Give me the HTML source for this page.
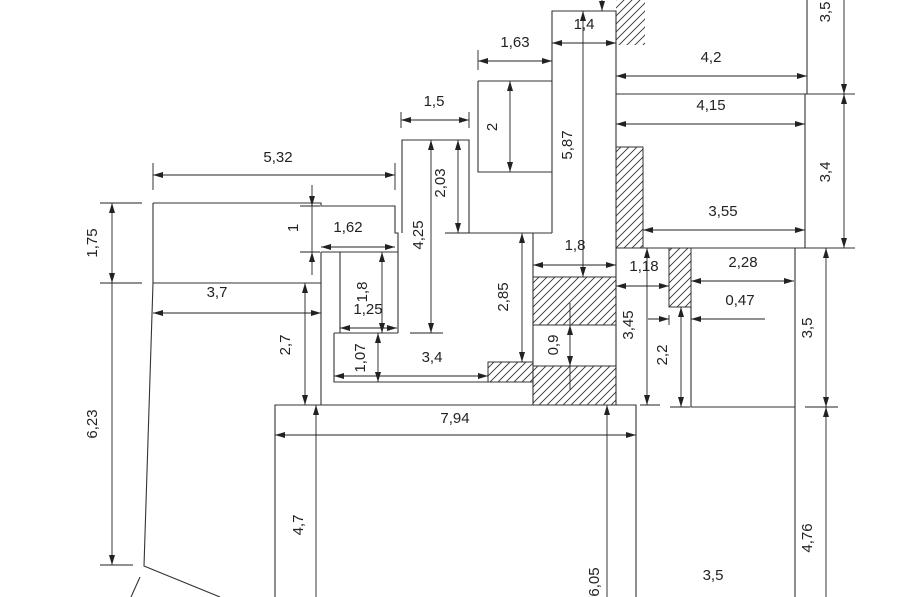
<!DOCTYPE html>
<html><head><meta charset="utf-8"><style>
html,body{margin:0;padding:0;background:#fff;}
svg{display:block;}
text{font-family:"Liberation Sans",sans-serif;font-size:15px;fill:#222;}
</style></head><body>
<svg width="900" height="597" viewBox="0 0 900 597" xmlns="http://www.w3.org/2000/svg">
<defs>
<marker id="a" viewBox="0 0 10 6" refX="10" refY="3" markerWidth="10" markerHeight="6" markerUnits="userSpaceOnUse" orient="auto-start-reverse"><path d="M0,0L10,3L0,6z" fill="#222"/></marker>
<pattern id="h" width="8" height="8" patternUnits="userSpaceOnUse"><path d="M-2,10L10,-2M-2,2L2,-2M6,10L10,6" stroke="#333" stroke-width="0.9"/></pattern>
</defs>
<g fill="url(#h)" stroke="#333" stroke-width="1">
<rect x="616" y="0" width="29" height="45" stroke="none"/>
<rect x="616" y="147" width="27" height="101"/>
<rect x="533" y="277" width="83" height="48"/>
<rect x="533" y="366" width="83" height="39"/>
<rect x="488" y="362" width="45" height="20"/>
<rect x="669" y="248" width="22" height="59"/>
</g>
<g stroke="#333" stroke-width="1.1" fill="none">
<path d="M153,203H321V206H395V233H398V333"/>
<path d="M153,203V283L144,566L220,597"/>
<path d="M140,577L131,597"/>
<path d="M153,283H321"/>
<path d="M321,252V405"/>
<path d="M321,252H398"/>
<path d="M340,252V333"/>
<path d="M334,333H398"/>
<path d="M334,333V382H533"/>
<path d="M402,233V140H469V233H552"/>
<path d="M478,81H552M478,81V172H552"/>
<path d="M552,233V11H616V405"/>
<path d="M533,233V405"/>
<path d="M533,277H616"/>
<path d="M616,94H807V0"/>
<path d="M805,94V248"/>
<path d="M616,248H855"/>
<path d="M805,94H855"/>
<path d="M691,307V407H795"/>
<path d="M795,248V597"/>
<path d="M275,597V405H636V597"/>
</g>
<g stroke="#222" stroke-width="0.9" fill="none">
<path d="M153,163V190M395,163V190"/>
<path d="M100,203H142M100,283H142M100,565H133"/>
<path d="M300,206H320M300,252H320"/>
<path d="M410,333H443M445,233H469"/>
<path d="M401,112V128M469,112V128"/>
<path d="M478,50V70"/>
<path d="M640,405H660M670,407H690M805,407H838"/>
<path d="M669,315V325"/>
</g>
<g stroke="#222" stroke-width="0.9" fill="none" marker-start="url(#a)" marker-end="url(#a)">
<line x1="153" y1="175" x2="395" y2="175"/>
<line x1="112" y1="203" x2="112" y2="283"/>
<line x1="112" y1="283" x2="112" y2="565" marker-start="none"/>
<line x1="153" y1="313" x2="321" y2="313"/>
<line x1="305" y1="283" x2="305" y2="405"/>
<line x1="321" y1="247" x2="395" y2="247"/>
<line x1="382" y1="252" x2="382" y2="333"/>
<line x1="340" y1="328" x2="397" y2="328"/>
<line x1="378" y1="333" x2="378" y2="382"/>
<line x1="334" y1="376" x2="488" y2="376"/>
<line x1="431" y1="140" x2="431" y2="333"/>
<line x1="458" y1="140" x2="458" y2="233"/>
<line x1="401" y1="120" x2="469" y2="120"/>
<line x1="522" y1="233" x2="522" y2="362"/>
<line x1="510" y1="81" x2="510" y2="172"/>
<line x1="478" y1="61" x2="552" y2="61"/>
<line x1="552" y1="43" x2="616" y2="43"/>
<line x1="583" y1="11" x2="583" y2="277"/>
<line x1="533" y1="265" x2="616" y2="265"/>
<line x1="616" y1="286" x2="669" y2="286"/>
<line x1="691" y1="281" x2="794" y2="281"/>
<line x1="647" y1="248" x2="647" y2="405"/>
<line x1="681" y1="307" x2="681" y2="407"/>
<line x1="826" y1="248" x2="826" y2="407"/>
<line x1="826" y1="407" x2="826" y2="597" marker-end="none"/>
<line x1="844" y1="94" x2="844" y2="248"/>
<line x1="844" y1="0" x2="844" y2="94" marker-start="none"/>
<line x1="616" y1="76" x2="807" y2="76"/>
<line x1="616" y1="124" x2="805" y2="124"/>
<line x1="643" y1="230" x2="805" y2="230"/>
<line x1="275" y1="435" x2="636" y2="435"/>
<line x1="316" y1="405" x2="316" y2="597" marker-end="none"/>
<line x1="607" y1="405" x2="607" y2="597" marker-end="none"/>
</g>
<g stroke="#222" stroke-width="0.9" fill="none" marker-end="url(#a)">
<line x1="312" y1="185" x2="312" y2="206"/>
<line x1="312" y1="275" x2="312" y2="252"/>
<line x1="312" y1="206" x2="312" y2="252" marker-end="none"/>
<line x1="602" y1="0" x2="602" y2="11"/>
<line x1="570" y1="303" x2="570" y2="325" marker-end="none"/>
<line x1="570" y1="345" x2="570" y2="325"/>
<line x1="570" y1="345" x2="570" y2="366"/>
<line x1="570" y1="366" x2="570" y2="390" marker-end="none"/>
<line x1="648" y1="319" x2="669" y2="319"/>
<line x1="765" y1="319" x2="691" y2="319"/>
</g>
<g text-anchor="middle">
<text x="278" y="162">5,32</text>
<text x="217" y="297">3,7</text>
<text x="348" y="232">1,62</text>
<text x="368" y="314">1,25</text>
<text x="432" y="362">3,4</text>
<text x="434" y="106">1,5</text>
<text x="515" y="47">1,63</text>
<text x="584" y="29">1,4</text>
<text x="575" y="250">1,8</text>
<text x="644" y="271">1,18</text>
<text x="743" y="267">2,28</text>
<text x="740" y="305">0,47</text>
<text x="711" y="62">4,2</text>
<text x="711" y="110">4,15</text>
<text x="723" y="216">3,55</text>
<text x="455" y="423">7,94</text>
<text x="713" y="580">3,5</text>
<g transform="translate(97,243) rotate(-90)"><text>1,75</text></g>
<g transform="translate(97,424) rotate(-90)"><text>6,23</text></g>
<g transform="translate(290,345) rotate(-90)"><text>2,7</text></g>
<g transform="translate(298,228) rotate(-90)"><text>1</text></g>
<g transform="translate(367,292) rotate(-90)"><text>1,8</text></g>
<g transform="translate(365,358) rotate(-90)"><text>1,07</text></g>
<g transform="translate(423,235) rotate(-90)"><text>4,25</text></g>
<g transform="translate(445,183) rotate(-90)"><text>2,03</text></g>
<g transform="translate(508,297) rotate(-90)"><text>2,85</text></g>
<g transform="translate(497,127) rotate(-90)"><text>2</text></g>
<g transform="translate(572,145) rotate(-90)"><text>5,87</text></g>
<g transform="translate(558,345) rotate(-90)"><text>0,9</text></g>
<g transform="translate(633,325) rotate(-90)"><text>3,45</text></g>
<g transform="translate(667,355) rotate(-90)"><text>2,2</text></g>
<g transform="translate(812,328) rotate(-90)"><text>3,5</text></g>
<g transform="translate(812,538) rotate(-90)"><text>4,76</text></g>
<g transform="translate(830,172) rotate(-90)"><text>3,4</text></g>
<g transform="translate(830,12) rotate(-90)"><text>3,5</text></g>
<g transform="translate(303,525) rotate(-90)"><text>4,7</text></g>
<g transform="translate(599,582) rotate(-90)"><text>6,05</text></g>
</g>
</svg>
</body></html>
